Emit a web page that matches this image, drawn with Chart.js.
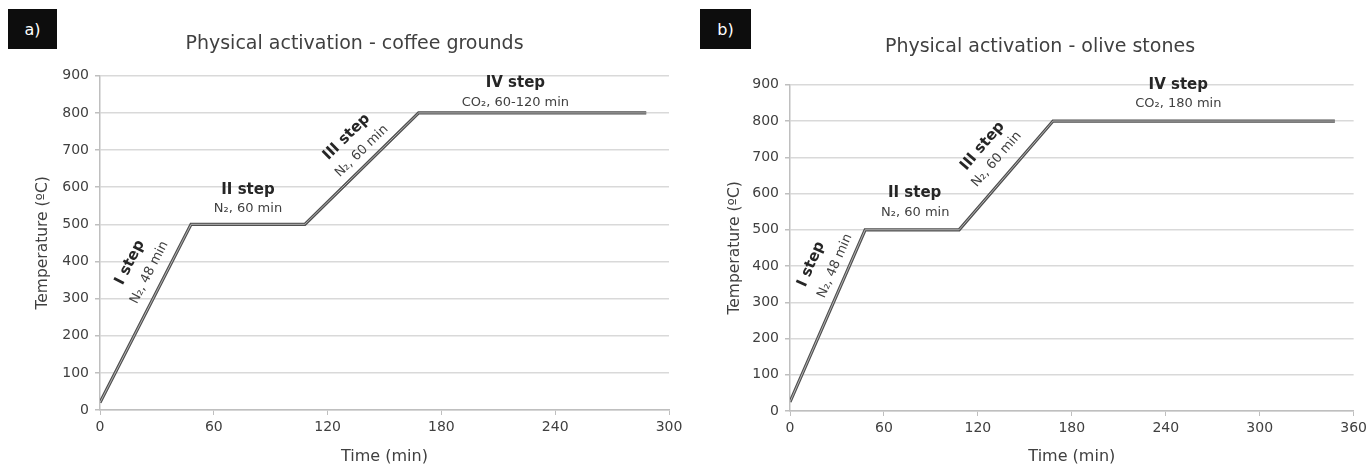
<!DOCTYPE html>
<html>
<head>
<meta charset="utf-8">
<script src="https://cdn.jsdelivr.net/npm/chart.js@4"></script>
<style>
  html, body { margin: 0; padding: 0; background: #ffffff; }
  #wrap { position: relative; width: 1371px; height: 466px; background: #ffffff; overflow: hidden; }
  .panel { position: absolute; top: 0; height: 466px; }
  .badge { position: absolute; background: #0d0d0d; color: #ffffff; font: 16px "DejaVu Sans", sans-serif;
           display: flex; align-items: center; justify-content: center; z-index: 2; }
</style>
</head>
<body>
<div id="wrap">
  <div class="badge" style="left:8px;top:9px;width:49px;height:40px;">a)</div>
  <div class="badge" style="left:700px;top:9px;width:51px;height:40px;">b)</div>
  <div class="panel" style="left:0;width:709px;"><canvas id="chartA" width="709" height="466"></canvas></div>
  <div class="panel" style="left:709px;width:662px;"><canvas id="chartB" width="662" height="466"></canvas></div>
</div>
<script>
// Heating programmes: time (min) and furnace temperature (ºC) at each break point
const timeCoffee = [0, 48, 108, 168, 288];
const tempCoffee = [20, 500, 500, 800, 800];
const timeOlive  = [0, 48, 108, 168, 348];
const tempOlive  = [25, 500, 500, 800, 800];

// Axis ranges and tick spacing
const xMaxCoffee = 300;
const xMaxOlive  = 360;
const xStep = 60;
const yMax = 900;
const yStep = 100;

// Step annotations
const stepNames = ['I step', 'II step', 'III step', 'IV step'];
const stepCondCoffee = ['N\u2082, 48 min', 'N\u2082, 60 min', 'N\u2082, 60 min', 'CO\u2082, 60-120 min'];
const stepCondOlive  = ['N\u2082, 48 min', 'N\u2082, 60 min', 'N\u2082, 60 min', 'CO\u2082, 180 min'];

const FONT = '"DejaVu Sans", sans-serif';
const TEXT = '#404040';

// Where each step's two-line caption sits, in (time, temperature) units
const captionPlaceCoffee = [
  { name: [15.8, 397], cond: [26, 370] },
  { name: [78, 592],   cond: [78, 543] },
  { name: [130, 735],  cond: [138, 697] },
  { name: [219, 881],  cond: [219, 827] }
];
const captionPlaceOlive = [
  { name: [13.5, 405], cond: [28.7, 400] },
  { name: [79.6, 600], cond: [80, 547] },
  { name: [123, 731],  cond: [132, 694] },
  { name: [248, 900],  cond: [248, 847] }
];

// Draws the step captions, rotated to follow each ramp
const stepCaptions = {
  id: 'stepCaptions',
  afterDatasetsDraw(chart, args, opts) {
    const ctx = chart.ctx;
    const xs = chart.scales.x, ys = chart.scales.y;
    const t = opts.times, v = opts.temps;
    ctx.save();
    ctx.textAlign = 'center';
    ctx.textBaseline = 'middle';
    for (let i = 0; i < opts.names.length; i++) {
      const dx = xs.getPixelForValue(t[i + 1]) - xs.getPixelForValue(t[i]);
      const dy = ys.getPixelForValue(v[i + 1]) - ys.getPixelForValue(v[i]);
      const ang = Math.atan2(dy, dx);
      const p = opts.places[i];
      const draw = (txt, at, font, color) => {
        ctx.save();
        ctx.translate(xs.getPixelForValue(at[0]), ys.getPixelForValue(at[1]));
        ctx.rotate(ang);
        ctx.font = font;
        ctx.fillStyle = color;
        ctx.fillText(txt, 0, 0);
        ctx.restore();
      };
      draw(opts.names[i], p.name, 'bold 15px ' + FONT, '#262626');
      draw(opts.conds[i], p.cond, '13px ' + FONT, TEXT);
    }
    ctx.restore();
  }
};

function makeChart(id, times, temps, xMax, conds, places, layout) {
  const pts = times.map((x, i) => ({ x: x, y: temps[i] }));
  return new Chart(document.getElementById(id), {
    type: 'line',
    data: {
      datasets: [
        { data: pts, borderColor: '#505050', borderWidth: 3.2, pointRadius: 0, tension: 0, order: 2 },
        { data: pts, borderColor: '#b4b4b4', borderWidth: 1, pointRadius: 0, tension: 0, order: 1 }
      ]
    },
    options: {
      responsive: false,
      animation: false,
      events: [],
      layout: { padding: { left: layout.left, right: layout.right, top: 0, bottom: 0 } },
      plugins: {
        legend: { display: false },
        tooltip: { enabled: false },
        title: {
          display: true,
          text: layout.title,
          color: TEXT,
          font: { family: FONT, size: 19, weight: 'normal' },
          padding: { top: layout.titleTop, bottom: layout.titleBottom }
        },
        stepCaptions: { times: times, temps: temps, names: stepNames, conds: conds, places: places }
      },
      scales: {
        x: {
          type: 'linear',
          min: 0, max: xMax,
          afterFit(s) { s.height = 466 - layout.plotBottom; },
          ticks: { stepSize: xStep, color: TEXT, font: { family: FONT, size: 14 }, padding: 4, maxRotation: 0 },
          grid: { drawOnChartArea: false, drawTicks: true, tickLength: 5, color: '#bfbfbf', tickColor: '#bfbfbf' },
          border: { color: '#bfbfbf', width: 1.5 },
          title: { display: true, text: 'Time (min)', color: TEXT, font: { family: FONT, size: 16 }, padding: { top: 0, bottom: 0 } }
        },
        y: {
          min: 0, max: yMax,
          afterFit(s) { s.width = layout.plotLeft - layout.left; },
          ticks: { stepSize: yStep, color: TEXT, font: { family: FONT, size: 14 }, padding: 6 },
          grid: { color: '#d9d9d9', lineWidth: 1.5, tickLength: 5, tickColor: '#bfbfbf' },
          border: { color: '#bfbfbf', width: 1.5 },
          title: { display: true, text: 'Temperature (ºC)', color: TEXT, font: { family: FONT, size: 15.5 }, padding: { top: layout.yTitlePad, bottom: 0 } }
        }
      }
    },
    plugins: [stepCaptions]
  });
}

makeChart('chartA', timeCoffee, tempCoffee, xMaxCoffee, stepCondCoffee, captionPlaceCoffee, {
  title: 'Physical activation - coffee grounds',
  left: 40, right: 40, titleTop: 33, titleBottom: 20, plotBottom: 410, plotLeft: 100, yTitlePad: -6
});
makeChart('chartB', timeOlive, tempOlive, xMaxOlive, stepCondOlive, captionPlaceOlive, {
  title: 'Physical activation - olive stones',
  left: 15, right: 15, titleTop: 36, titleBottom: 26, plotBottom: 411, plotLeft: 81, yTitlePad: 2
});
</script>
</body>
</html>
